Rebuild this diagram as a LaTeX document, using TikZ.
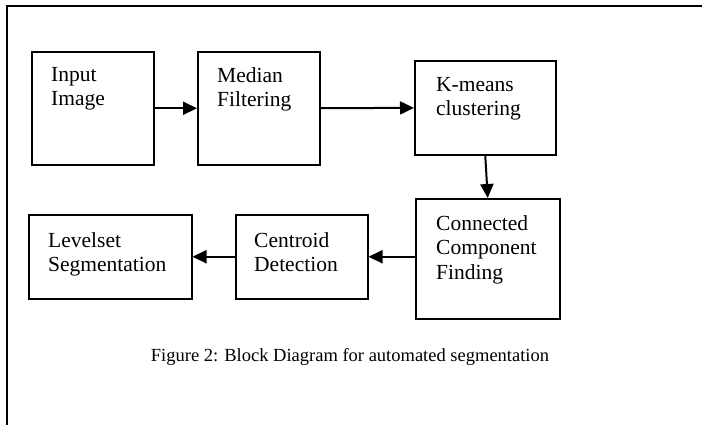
\documentclass[tikz,border=0pt]{standalone}
\usepackage{fontspec}
\setmainfont{Liberation Serif}
\usetikzlibrary{arrows.meta,calc}
\begin{document}
\begin{tikzpicture}[x=1pt,y=-1pt,
  blk/.style={draw,line width=1.5pt,rectangle,anchor=north west,inner sep=0pt},
  txt/.style={anchor=north west,align=left,inner sep=0pt,font=\fontsize{21.5}{24.5}\selectfont},
  conn/.style={line width=2pt,-{Triangle[length=14pt,width=13pt]}}]
\useasboundingbox (0,0) rectangle (702,424);
% frame
\draw[line width=2.5pt] (710,6) -- (7,6) -- (7,430);
% blocks
\node[blk,minimum width=122pt,minimum height=113pt] (b1) at (31,51) {};
\node[blk,minimum width=122pt,minimum height=113pt] (b2) at (197,51) {};
\node[blk,minimum width=141pt,minimum height=94pt] (b3) at (414,60) {};
\node[blk,minimum width=144pt,minimum height=120pt] (b4) at (415,198) {};
\node[blk,minimum width=132pt,minimum height=84pt] (b5) at (235,214) {};
\node[blk,minimum width=163pt,minimum height=84pt] (b6) at (28,214) {};
% texts
\node[txt] (t1) at ($(b1.north west)+(20,16)$) {Input\\Image};
\node[txt] (t2) at ($(b2.north west)+(20,16)$) {Median\\Filtering};
\node[txt] (t3) at ($(b3.north west)+(22,17)$) {K-means\\clustering};
\node[txt] (t4) at ($(b4.north west)+(21,17)$) {Connected\\Component\\Finding};
\node[txt] (t5) at ($(b5.north west)+(19,18)$) {Centroid\\Detection};
\node[txt] (t6) at ($(b6.north west)+(20,18)$) {Levelset\\Segmentation};
% connectors
\draw[conn] (b1) -- (b2);
\draw[conn] (b2) -- (b3);
\draw[conn] (b3.south) -- (b4.north);
\draw[conn] (b5.east -| b4.west) -- (b5.east);
\draw[conn] (b5) -- (b6);
% caption
\node[font=\fontsize{18.5}{22}\selectfont] (cap) at (350,357) {Figure 2: Block Diagram for automated segmentation};
\end{tikzpicture}
\end{document}
